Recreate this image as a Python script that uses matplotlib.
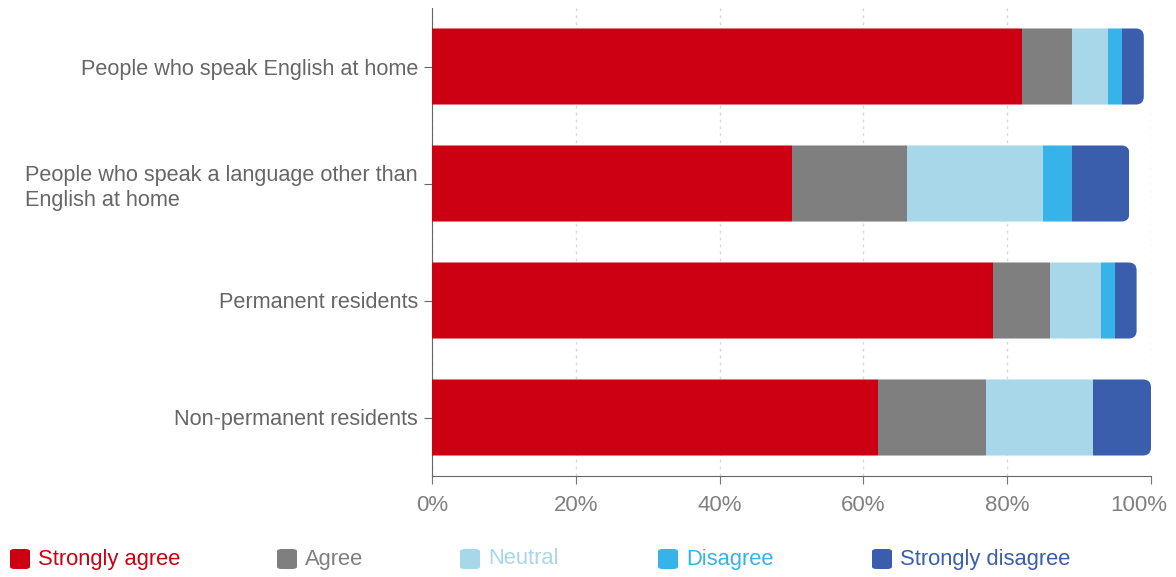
import numpy as np
import matplotlib.pyplot as plt
import matplotlib.transforms as mtransforms
from matplotlib.patches import FancyBboxPatch

groups = ["People who speak English at home",
          "People who speak a language other than\nEnglish at home",
          "Permanent residents",
          "Non-permanent residents"]
series = ["Strongly agree", "Agree", "Neutral", "Disagree", "Strongly disagree"]
strongly_agree = [82, 50, 78, 62]
agree = [7, 16, 8, 15]
neutral = [5, 19, 7, 15]
disagree = [2, 4, 2, 0]
strongly_disagree = [3, 8, 3, 8]
values = [strongly_agree, agree, neutral, disagree, strongly_disagree]
colors = ["#CC0012", "#7F7F7F", "#A8D7EA", "#36B3E9", "#3A5EAB"]

plt.rcParams["font.family"] = ["Liberation Sans", "DejaVu Sans"]

W, H = 1176, 577
fig = plt.figure(figsize=(W / 100, H / 100), dpi=100)
ax = fig.add_axes([432 / W, 1 - 476 / H, (1151 - 432) / W, (476 - 8) / H])

y = np.arange(len(groups))
ax.set_xlim(0, 100)
ax.set_ylim(len(groups) - 0.5, -0.5)

# rounded right ends: clip each row with a rounded box
px_x = (1151 - 432) / 100
px_y = (476 - 8) / len(groups)
r = 8 / px_x
bh = 0.65
totals = np.sum(values, axis=0)
clips = []
for i in range(len(groups)):
    cp = FancyBboxPatch((-10, y[i] - bh / 2), totals[i] + 10, bh,
                        boxstyle=f"round,pad=0,rounding_size={r}",
                        mutation_aspect=px_x / px_y,
                        transform=ax.transData, facecolor="none", edgecolor="none")
    ax.add_patch(cp)
    clips.append(cp)

left = np.zeros(len(groups))
for vals, col, name in zip(values, colors, series):
    bars = ax.barh(y, vals, left=left, height=bh, color=col, label=name, zorder=3)
    for b, cp in zip(bars, clips):
        b.set_clip_path(cp)
    left += np.array(vals)

ax.set_yticks(y)
ax.set_yticklabels(groups, fontsize=15.6, color="#666666")
for t in ax.get_yticklabels():
    t.set_multialignment("left")
    t.set_linespacing(1.25)
ax.tick_params(axis="y", length=6, color="#666666", pad=4)

ax.set_xticks(np.arange(0, 101, 20))
ax.set_xticklabels([f"{v}%" for v in range(0, 101, 20)], fontsize=16, color="#808080")
ax.tick_params(axis="x", length=6, color="#777777", pad=8)
last = ax.get_xticklabels()[-1]
last.set_transform(last.get_transform() +
                   mtransforms.ScaledTranslation(-12 / 100, 0, fig.dpi_scale_trans))
ax.grid(axis="x", linestyle=(0, (2, 3)), color="#D8D8D8", linewidth=1, zorder=0)

for s in ["top", "right"]:
    ax.spines[s].set_visible(False)
ax.spines["left"].set_color("#666666")
ax.spines["bottom"].set_color("#666666")

# legend
leg_x = [10, 277, 460, 658, 872]
leg_y = 1 - 559 / H
for lx, col, name in zip(leg_x, colors, series):
    fig.patches.append(FancyBboxPatch((lx / W, leg_y - 10 / H), 20 / W, 20 / H,
                                      boxstyle="round,pad=0,rounding_size=0.004",
                                      transform=fig.transFigure, facecolor=col,
                                      edgecolor="none", figure=fig))
    fig.text((lx + 28) / W, leg_y, name, color=col, fontsize=15.8, va="center", ha="left")

fig.savefig("out.png", dpi=100)
